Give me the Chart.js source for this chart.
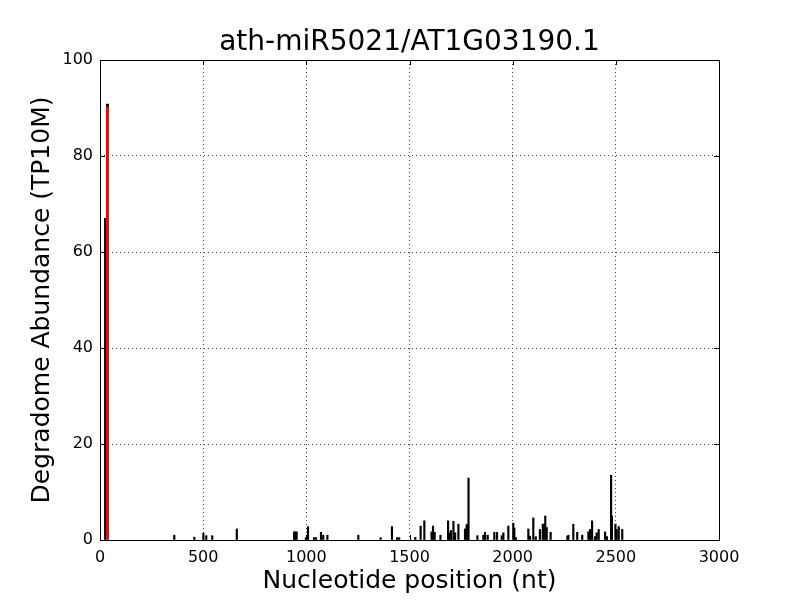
<!DOCTYPE html>
<html>
<head>
<meta charset="utf-8">
<script src="https://cdn.jsdelivr.net/npm/chart.js@4/dist/chart.umd.min.js"></script>
<style>
  html, body { margin: 0; padding: 0; background: #fff; }
  #wrap { width: 800px; height: 600px; }
</style>
</head>
<body>
<div id="wrap"><canvas id="chart" width="800" height="600"></canvas></div>
<script>
// read positions (nt) and abundance (TP10M)
const readPositions = [25, 36, 360, 457, 501, 515, 544, 663, 941, 946, 953, 998, 1008, 1037, 1047,
  1071, 1082, 1102, 1252, 1360, 1415, 1440, 1450, 1528, 1554, 1572, 1607, 1614, 1622, 1650,
  1687, 1695, 1701, 1713, 1721, 1737, 1769, 1777, 1783, 1786, 1829, 1858, 1866, 1879, 1911,
  1924, 1947, 1955, 1979, 2003, 2008, 2016, 2076, 2084, 2100, 2112, 2132, 2146, 2150, 2158,
  2165, 2184, 2265, 2270, 2294, 2313, 2337, 2367, 2375, 2385, 2399, 2407, 2417, 2448, 2457,
  2477, 2481, 2498, 2504, 2514, 2531];
const readValues = [67, 90.8, 1.0, 0.6, 1.4, 0.9, 0.9, 2.3, 1.7, 1.7, 1.7, 0.5, 2.8, 0.5, 0.5,
  1.6, 1.0, 1.0, 1.0, 0.5, 2.8, 0.5, 0.5, 0.55, 2.9, 4.0, 1.7, 2.9, 1.6, 1.0,
  4.0, 1.5, 2.0, 3.9, 1.5, 3.3, 2.3, 3.2, 3.3, 12.9, 0.9, 1.0, 1.6, 1.0, 1.6,
  1.6, 0.9, 1.5, 2.9, 3.5, 2.5, 0.5, 2.3, 0.8, 4.6, 0.7, 2.2, 3.3, 3.3, 5.0,
  2.6, 1.6, 0.8, 1.0, 3.3, 1.6, 1.0, 1.7, 2.2, 4.0, 0.7, 1.5, 2.2, 1.7, 0.7,
  13.5, 5.0, 3.3, 2.2, 2.8, 2.2];

// predicted cleavage site
const sitePositions = [36];
const siteValues = [90.8];

const xTicks = [0, 500, 1000, 1500, 2000, 2500, 3000];
const yTicks = [0, 20, 40, 60, 80, 100];

const FONT = "'DejaVu Sans', sans-serif";

// frame + inward ticks on all four sides (matplotlib classic look)
const frame = {
  id: 'frame',
  afterDraw(chart) {
    const { ctx, chartArea: a, scales } = chart;
    ctx.save();
    ctx.strokeStyle = '#000';
    ctx.lineWidth = 1;
    ctx.strokeRect(a.left + 0.5, a.top + 0.5, a.right - a.left, a.bottom - a.top);
    ctx.beginPath();
    xTicks.forEach(v => {
      const x = Math.round(scales.x.getPixelForValue(v)) + 0.5;
      ctx.moveTo(x, a.bottom); ctx.lineTo(x, a.bottom - 5);
      ctx.moveTo(x, a.top); ctx.lineTo(x, a.top + 5);
    });
    yTicks.forEach(v => {
      const y = Math.round(scales.y.getPixelForValue(v)) + 0.5;
      ctx.moveTo(a.left, y); ctx.lineTo(a.left + 5, y);
      ctx.moveTo(a.right, y); ctx.lineTo(a.right - 5, y);
    });
    ctx.stroke();
    ctx.restore();
  }
};

new Chart(document.getElementById('chart'), {
  type: 'bar',
  data: {
    datasets: [
      {
        label: 'site',
        data: sitePositions.map((p, i) => ({ x: p, y: siteValues[i] })),
        backgroundColor: '#ff0000',
        borderColor: '#000',
        borderWidth: { top: 3, left: 0, right: 0, bottom: 0 },
        barThickness: 3,
        order: 0
      },
      {
        label: 'reads',
        data: readPositions.map((p, i) => ({ x: p, y: readValues[i] })),
        backgroundColor: '#000',
        barThickness: 1.5,
        order: 1
      }
    ]
  },
  options: {
    responsive: false,
    animation: false,
    grouped: false,
    layout: { padding: { left: 0, right: 81, top: 0, bottom: 0 } },
    plugins: {
      legend: { display: false },
      tooltip: { enabled: false },
      title: {
        display: true,
        fullSize: false,
        text: 'ath-miR5021/AT1G03190.1',
        color: '#000',
        font: { family: FONT, size: 28, weight: 'normal', lineHeight: 1.2 },
        padding: { top: 26.4, bottom: 0 }
      }
    },
    scales: {
      x: {
        type: 'linear',
        min: 0,
        max: 3000,
        offset: false,
        afterFit: s => { s.height = 60; },
        afterBuildTicks: s => { s.ticks = xTicks.map(v => ({ value: v })); },
        border: { display: false, dash: [1, 3] },
        grid: { offset: false, color: '#444', lineWidth: 1, drawTicks: false },
        ticks: { color: '#000', padding: 8, maxRotation: 0, font: { family: FONT, size: 16 }, callback: v => String(v) },
        title: {
          display: true,
          text: 'Nucleotide position (nt)',
          color: '#000',
          font: { family: FONT, size: 25 },
          padding: { top: 0, bottom: 4 }
        }
      },
      y: {
        min: 0,
        max: 100,
        afterFit: s => { s.width = 100; },
        afterBuildTicks: s => { s.ticks = yTicks.map(v => ({ value: v })); },
        border: { display: false, dash: [1, 3] },
        grid: { color: '#444', lineWidth: 1, drawTicks: false },
        ticks: { color: '#000', padding: 7, font: { family: FONT, size: 16 }, callback: v => String(v) },
        title: {
          display: true,
          text: 'Degradome Abundance (TP10M)',
          color: '#000',
          font: { family: FONT, size: 25 },
          padding: { top: 27, bottom: 0 }
        }
      }
    }
  },
  plugins: [frame]
});
</script>
</body>
</html>
